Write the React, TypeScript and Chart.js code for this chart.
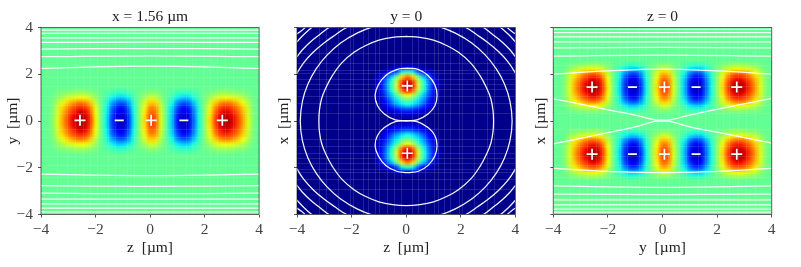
import React, { useEffect, useRef } from "react";
import { Chart, registerables } from "chart.js";

Chart.register(...registerables);

const FONT = "'Liberation Serif', serif";
const TICK_VALUES = [-4, -2, 0, 2, 4];
const TICK_LABELS = ["\u22124", "\u22122", "0", "2", "4"];

// Field values, as percent of the jet colour range.
const R0 = [47,47,50,62,74,84,92,97,96,86,66,49,36,18,7,5,16,36,52,68,84,82,62,46,32,14,5,7,22,38,52,68,84,94,97,93,85,75,62,50,47];
const R1 = [47,47,50,61,73,83,91,95,94,85,65,49,36,19,8,6,17,36,52,67,83,81,61,46,32,15,6,8,23,38,52,67,83,93,95,92,84,74,61,50,47];
const R2 = [47,47,50,60,71,80,87,92,91,82,64,49,37,21,11,9,19,37,51,66,80,78,60,46,33,17,9,11,24,39,51,66,80,89,92,88,81,72,60,50,47];
const R3 = [47,47,49,59,68,76,82,86,85,77,62,49,38,24,16,14,23,38,51,63,76,74,59,46,35,21,14,16,27,40,51,63,76,84,86,83,77,69,59,49,47];
const R4 = [47,47,49,56,63,69,74,77,76,70,58,48,40,30,23,22,28,40,50,60,69,68,56,46,38,27,22,23,32,42,50,60,69,75,77,75,70,64,56,49,47];
const R5 = [47,47,48,52,56,60,62,64,64,60,53,48,43,37,33,33,36,43,49,54,60,59,52,47,42,36,33,33,38,44,49,54,60,63,64,63,60,57,52,48,47];
const R6 = [47,47,47,49,51,52,53,54,54,52,50,47,45,43,41,41,43,45,48,50,52,52,49,47,45,42,41,41,43,46,48,50,52,54,54,53,52,51,49,47,47];
const R7 = [47,47,47,48,48,48,49,49,49,48,48,47,47,46,45,45,46,47,47,48,48,48,48,47,46,46,45,45,46,47,47,48,48,49,49,49,48,48,48,47,47];
const BAND = [R7, R6, R5, R4, R3, R2, R1, R0, R1, R2, R3, R4, R5, R6, R7];

const LOBE = [
  [2,2,1,1,1,1,1,1],
  [8,7,5,3,2,1,1,1],
  [42,36,20,11,6,3,1,1],
  [78,68,46,30,18,7,2,1],
  [94,84,58,38,23,9,3,1],
  [99,88,60,40,24,10,3,1],
  [90,80,56,37,22,9,3,1],
  [64,57,43,31,19,8,2,1],
  [48,43,35,26,15,6,2,1],
  [38,34,28,20,11,4,1,1],
  [20,18,15,10,6,2,1,1],
  [8,7,6,4,2,1,1,1],
  [3,3,2,1,1,1,1,1],
];

// White contour lines.
const P1_LINES: number[][][] = [
  [[-4,2.25],[-2,2.32],[0,2.35],[2,2.32],[4,2.25]],
  [[-4,2.75],[0,2.79],[4,2.75]],
  [[-4,3.08],[0,3.1],[4,3.08]],
  [[-4,3.36],[0,3.37],[4,3.36]],
  [[-4,3.56],[4,3.56]],
  [[-4,3.75],[4,3.75]],
  [[-4,3.89],[4,3.89]],
  [[-4,-2.27],[-2,-2.32],[0,-2.34],[2,-2.32],[4,-2.27]],
  [[-4,-2.77],[0,-2.8],[4,-2.77]],
  [[-4,-3.09],[0,-3.11],[4,-3.09]],
  [[-4,-3.34],[4,-3.34]],
  [[-4,-3.55],[4,-3.55]],
  [[-4,-3.73],[4,-3.73]],
  [[-4,-3.89],[4,-3.89]],
];

const RING_INNER = [[0,3.62],[0.5,3.58],[1,3.46],[1.5,3.22],[1.9,2.95],[2.35,2.5],[2.7,1.95],[2.95,1.4],[3.1,0.95],[3.18,0.45],[3.2,0],[3.18,-0.45],[3.1,-0.95],[2.95,-1.4],[2.7,-1.95],[2.35,-2.5],[1.9,-2.95],[1.5,-3.22],[1,-3.46],[0.5,-3.58],[0,-3.62],[-0.5,-3.58],[-1,-3.46],[-1.5,-3.22],[-1.9,-2.95],[-2.35,-2.5],[-2.7,-1.95],[-2.95,-1.4],[-3.1,-0.95],[-3.18,-0.45],[-3.2,0],[-3.18,0.45],[-3.1,0.95],[-2.95,1.4],[-2.7,1.95],[-2.35,2.5],[-1.9,2.95],[-1.5,3.22],[-1,3.46],[-0.5,3.58],[0,3.62]];
const RING_OUTER = [[0,4.25],[0.6,4.2],[1.2,4.04],[1.8,3.76],[2.4,3.34],[2.9,2.82],[3.3,2.23],[3.6,1.58],[3.8,0.85],[3.88,0],[3.8,-0.85],[3.6,-1.58],[3.3,-2.23],[2.9,-2.82],[2.4,-3.34],[1.8,-3.76],[1.2,-4.04],[0.6,-4.2],[0,-4.25],[-0.6,-4.2],[-1.2,-4.04],[-1.8,-3.76],[-2.4,-3.34],[-2.9,-2.82],[-3.3,-2.23],[-3.6,-1.58],[-3.8,-0.85],[-3.88,0],[-3.8,0.85],[-3.6,1.58],[-3.3,2.23],[-2.9,2.82],[-2.4,3.34],[-1.8,3.76],[-1.2,4.04],[-0.6,4.2],[0,4.25]];
const LOBE_UP = [[0.05,2.26],[0.45,2.2],[0.8,1.95],[1.05,1.55],[1.13,1.1],[1.05,0.65],[0.8,0.3],[0.4,0.05],[0,0.02],[-0.4,0.05],[-0.8,0.3],[-1.05,0.65],[-1.14,1.1],[-1.02,1.55],[-0.75,1.95],[-0.35,2.2],[0.05,2.26]];
const LOBE_DOWN = [[0.05,-2.21],[0.45,-2.15],[0.8,-1.9],[1.05,-1.5],[1.13,-1.05],[1.05,-0.62],[0.8,-0.28],[0.4,-0.03],[0,0],[-0.4,-0.03],[-0.8,-0.28],[-1.05,-0.62],[-1.14,-1.05],[-1.02,-1.5],[-0.75,-1.9],[-0.35,-2.15],[0.05,-2.21]];
const ARC_C = [[-1.7,4.17],[-2.18,4],[-2.6,3.68],[-3,3.35],[-3.4,2.95],[-3.75,2.5],[-4,2.05],[-4.2,1.6]];
const ARC_B = [[-2.5,4.18],[-2.83,4],[-3.2,3.67],[-3.5,3.39],[-3.8,3.05],[-4,2.75],[-4.2,2.45]];
const ARC_A = [[-3.3,4.12],[-3.46,4],[-3.75,3.7],[-4,3.39],[-4.15,3.2]];
const ARC_F = [[-3.6,4.1],[-3.85,3.85],[-4.1,3.65]];
const CORNERS = [[1,1],[-1,1],[1,-1],[-1,-1]];
const P2_LINES: number[][][] = [
  RING_INNER, RING_OUTER, LOBE_UP, LOBE_DOWN,
  ...[ARC_C, ARC_B, ARC_A, ARC_F].flatMap((arc) =>
    CORNERS.map(([sx, sy]) => arc.map(([x, y]) => [x * sx, y * sy]))),
];

const P3_LINES: number[][][] = [
  [[-4,2],[-2,2.14],[0,2.22],[2,2.14],[4,2]],
  [[-4,0.95],[-3,0.72],[-2,0.48],[-1,0.25],[-0.45,0.09],[-0.2,0.04],[0.2,0.04],[0.45,0.09],[1,0.25],[2,0.5],[3,0.73],[4,0.97]],
  [[-4,-0.98],[-3,-0.74],[-2,-0.5],[-1,-0.25],[-0.45,-0.07],[-0.2,-0.01],[0.2,-0.01],[0.45,-0.07],[1,-0.25],[2,-0.48],[3,-0.71],[4,-0.95]],
  [[-4,-2.03],[-2,-2.15],[0,-2.21],[2,-2.15],[4,-2.03]],
  [[-4,2.78],[0,2.82],[4,2.78]],
  [[-4,3.13],[0,3.15],[4,3.13]],
  [[-4,3.39],[4,3.39]],
  [[-4,3.6],[4,3.6]],
  [[-4,3.78],[4,3.78]],
  [[-4,3.92],[4,3.92]],
  [[-4,-2.78],[0,-2.84],[4,-2.78]],
  [[-4,-3.13],[0,-3.15],[4,-3.13]],
  [[-4,-3.37],[4,-3.37]],
  [[-4,-3.59],[4,-3.59]],
  [[-4,-3.77],[4,-3.77]],
  [[-4,-3.9],[4,-3.9]],
];

const P1_PLUS = [[-2.57,0.03],[0.04,0.03],[2.65,0.03]];
const P1_MINUS = [[-1.13,0.03],[1.24,0.03]];
const P2_PLUS = [[0.04,1.5],[0.04,-1.38]];
const P3_PLUS = [[-2.58,1.45],[0.07,1.45],[2.72,1.45],[-2.58,-1.42],[0.07,-1.42],[2.72,-1.42]];
const P3_MINUS = [[-1.1,1.45],[1.23,1.45],[-1.1,-1.42],[1.23,-1.42]];

// Faint seams of the original mesh.
const SEAMS_WIDE = [-3.4,-3.05,-2.75,-2.45,-2.2,-1.95,-1.55,-1.3,-0.85,-0.6,-0.2,0.2,0.6,0.85,1.3,1.55,1.95,2.2,2.45,2.75,3.05,3.4];
const SEAMS_TALL = [-3.7,-3.3,-2.4,-1.9,-1.5,-1.05,-0.7,-0.35,0.35,0.7,1.05,1.5,1.9,2.4,3.3,3.7];
const SEAMS_P2_Z = [-3.2,-2.95,-2.5,-2.05,-1.95,-1.6,-1.4,-1.15,-1,-0.7,-0.45,-0.2,0.2,0.45,0.7,1,1.15,1.4,1.6,1.95,2.05,2.5,2.95,3.2];
const SEAMS_P2_X = [-2.9,-2.5,-2.2,-2.05,-1.8,-1.6,-1.35,-1.05,-0.75,-0.35,0.35,0.75,1.05,1.35,1.6,1.8,2.05,2.2,2.5,2.9];

type Field = { rows: number[][]; x0: number; y0: number; dx: number; dy: number };

const mirrorRow = (r: number[]) => [...r.slice(1).reverse(), ...r];

const PANELS = [
  {
    title: "x = 1.56 \u00b5m", xLabel: "z  [\u00b5m]", yLabel: "y  [\u00b5m]", showY: true,
    left: 0, width: 268, axisWidth: 41, yTitlePad: 4, background: 47,
    fields: [{ rows: BAND, x0: -4, y0: 1.4, dx: 0.2, dy: -0.2 }] as Field[],
    lines: P1_LINES, plus: P1_PLUS, minus: P1_MINUS, seamsV: SEAMS_WIDE, seamsH: SEAMS_TALL, seamAlpha: 0.1,
  },
  {
    title: "y = 0", xLabel: "z  [\u00b5m]", yLabel: "x  [\u00b5m]", showY: false,
    left: 270, width: 256, axisWidth: 27, yTitlePad: 5, background: 1,
    fields: [
      { rows: LOBE.map(mirrorRow), x0: -1.35, y0: 2.5, dx: 0.2, dy: -0.2 },
      { rows: [...LOBE].reverse().map(mirrorRow), x0: -1.35, y0: 0.02, dx: 0.2, dy: -0.2 },
    ] as Field[],
    lines: P2_LINES, plus: P2_PLUS, minus: [] as number[][], seamsV: SEAMS_P2_Z, seamsH: SEAMS_P2_X, seamAlpha: 0.13,
  },
  {
    title: "z = 0", xLabel: "y  [\u00b5m]", yLabel: "x  [\u00b5m]", showY: false,
    left: 530, width: 271, axisWidth: 23.3, yTitlePad: 2, background: 47,
    fields: [
      { rows: BAND, x0: -4, y0: 2.56, dx: 0.2, dy: -0.16 },
      { rows: BAND, x0: -4, y0: -0.3, dx: 0.2, dy: -0.16 },
    ] as Field[],
    lines: P3_LINES, plus: P3_PLUS, minus: P3_MINUS, seamsV: SEAMS_WIDE, seamsH: SEAMS_TALL, seamAlpha: 0.1,
  },
];

const PLOT_WIDTH = 218.4;

function ramp(v: number, pts: number[][]) {
  if (v <= pts[0][0]) return pts[0][1];
  for (let i = 1; i < pts.length; i++) {
    if (v <= pts[i][0]) {
      const [a, va] = pts[i - 1];
      const [b, vb] = pts[i];
      return va + ((v - a) / (b - a)) * (vb - va);
    }
  }
  return pts[pts.length - 1][1];
}

function jet(pct: number): [number, number, number] {
  const v = pct / 100;
  const r = ramp(v, [[0.35, 0], [0.66, 1], [0.89, 1], [1, 0.5]]);
  const g = ramp(v, [[0.125, 0], [0.375, 1], [0.64, 1], [0.91, 0]]);
  const b = ramp(v, [[0, 0.5], [0.11, 1], [0.34, 1], [0.65, 0]]);
  return [Math.round(r * 255), Math.round(g * 255), Math.round(b * 255)];
}

const heatPlugin = {
  id: "heat",
  beforeDatasetsDraw(chart: any, _args: any, opts: any) {
    const { ctx, chartArea: a, scales } = chart;
    ctx.save();
    ctx.beginPath();
    ctx.rect(a.left, a.top, a.right - a.left, a.bottom - a.top);
    ctx.clip();
    const [r, g, b] = jet(opts.background);
    ctx.fillStyle = `rgb(${r},${g},${b})`;
    ctx.fillRect(a.left, a.top, a.right - a.left, a.bottom - a.top);
    ctx.imageSmoothingEnabled = true;
    ctx.imageSmoothingQuality = "high";
    for (const ds of chart.data.datasets) {
      if (!ds.heatCols) continue;
      const cols = ds.heatCols;
      const rows = ds.data.length / cols;
      const off = document.createElement("canvas");
      off.width = cols;
      off.height = rows;
      const octx = off.getContext("2d")!;
      const img = octx.createImageData(cols, rows);
      ds.data.forEach((p: any, i: number) => {
        const [cr, cg, cb] = jet(p.v);
        img.data[i * 4] = cr;
        img.data[i * 4 + 1] = cg;
        img.data[i * 4 + 2] = cb;
        img.data[i * 4 + 3] = 255;
      });
      octx.putImageData(img, 0, 0);
      const first = ds.data[0];
      const last = ds.data[ds.data.length - 1];
      const x1 = scales.x.getPixelForValue(first.x);
      const x2 = scales.x.getPixelForValue(last.x);
      const y1 = scales.y.getPixelForValue(first.y);
      const y2 = scales.y.getPixelForValue(last.y);
      ctx.drawImage(off, 0.5, 0.5, cols - 1, rows - 1, x1, y1, x2 - x1, y2 - y1);
    }
    ctx.strokeStyle = `rgba(255,255,255,${opts.seamAlpha})`;
    ctx.lineWidth = 1;
    for (const v of opts.seamsV) {
      const p = Math.round(scales.x.getPixelForValue(v)) + 0.5;
      ctx.beginPath();
      ctx.moveTo(p, a.top);
      ctx.lineTo(p, a.bottom);
      ctx.stroke();
    }
    for (const v of opts.seamsH) {
      const p = Math.round(scales.y.getPixelForValue(v)) + 0.5;
      ctx.beginPath();
      ctx.moveTo(a.left, p);
      ctx.lineTo(a.right, p);
      ctx.stroke();
    }
    ctx.restore();
  },
  afterDatasetsDraw(chart: any) {
    const { ctx, chartArea: a } = chart;
    ctx.save();
    ctx.strokeStyle = "rgba(0,0,0,0.6)";
    ctx.lineWidth = 1;
    ctx.strokeRect(a.left, a.top, a.right - a.left, a.bottom - a.top);
    ctx.restore();
  },
};

function axis(label: string, isX: boolean, showLabels: boolean, panel: any) {
  return {
    type: "linear",
    min: -4,
    max: 4,
    afterBuildTicks(scale: any) {
      scale.ticks = TICK_VALUES.map((value) => ({ value }));
    },
    afterFit(scale: any) {
      if (isX) scale.height = 52.5;
      else scale.width = panel.axisWidth;
    },
    border: { display: false },
    grid: { drawOnChartArea: false, drawTicks: true, tickLength: 3, color: "#555" },
    ticks: {
      display: showLabels,
      padding: 5,
      maxRotation: 0,
      autoSkip: false,
      color: "#444",
      font: { family: FONT, size: 15.5, lineHeight: 1 },
      callback: (v: number) => TICK_LABELS[TICK_VALUES.indexOf(v)] ?? "",
    },
    title: {
      display: true,
      text: label,
      color: "#222",
      font: { family: FONT, size: 15.5, lineHeight: 1.2 },
      padding: isX ? { top: 0, bottom: 10 } : { top: panel.yTitlePad, bottom: 0 },
    },
  };
}

function buildDatasets(panel: any) {
  const sets: any[] = [];
  const toPts = (arr: number[][]) => arr.map(([x, y]) => ({ x, y }));
  sets.push({
    label: "plus", data: toPts(panel.plus), pointStyle: "cross", pointRadius: 5.5,
    pointBorderColor: "#fff", pointBorderWidth: 1.7, showLine: false, clip: 0,
  });
  if (panel.minus.length) {
    sets.push({
      label: "minus", data: toPts(panel.minus), pointStyle: "line", pointRadius: 4.5,
      pointBorderColor: "#fff", pointBorderWidth: 1.7, showLine: false, clip: 0,
    });
  }
  panel.lines.forEach((line: number[][], i: number) => {
    sets.push({
      label: `contour ${i}`, data: toPts(line), showLine: true, pointRadius: 0,
      borderColor: "rgba(255,255,255,0.95)", borderWidth: 1.25, tension: 0.4, capBezierPoints: false, fill: false, clip: 0,
    });
  });
  panel.fields.forEach((f: Field, i: number) => {
    const data: any[] = [];
    f.rows.forEach((row, ri) =>
      row.forEach((v, ci) => data.push({ x: f.x0 + ci * f.dx, y: f.y0 + ri * f.dy, v })),
    );
    sets.push({ label: `field ${i}`, data, heatCols: f.rows[0].length, pointRadius: 0, showLine: false });
  });
  return sets;
}

function Panel({ panel }: { panel: any }) {
  const ref = useRef<HTMLCanvasElement>(null);
  useEffect(() => {
    const chart = new Chart(ref.current!, {
      type: "scatter",
      data: { datasets: buildDatasets(panel) },
      plugins: [heatPlugin],
      options: {
        responsive: false,
        animation: false,
        events: [],
        layout: {
          padding: {
            left: 0, top: 0, bottom: 0,
            right: panel.width - panel.axisWidth - PLOT_WIDTH,
          },
        },
        scales: {
          x: axis(panel.xLabel, true, true, panel),
          y: axis(panel.yLabel, false, panel.showY, panel),
        },
        plugins: {
          legend: { display: false },
          tooltip: { enabled: false },
          title: {
            display: true,
            fullSize: false,
            text: panel.title,
            color: "#222",
            font: { family: FONT, size: 15.5, weight: "normal", lineHeight: 1 },
            padding: { top: 9, bottom: 3 },
          },
          heat: {
            background: panel.background,
            seamsV: panel.seamsV,
            seamsH: panel.seamsH,
            seamAlpha: panel.seamAlpha,
          },
        },
      } as any,
    } as any);
    return () => chart.destroy();
  }, [panel]);
  return (
    <canvas
      ref={ref}
      width={panel.width}
      height={267}
      style={{ position: "absolute", left: panel.left, top: 0, width: panel.width, height: 267 }}
    />
  );
}

export default function App() {
  return (
    <div style={{ position: "fixed", left: 0, top: 0, width: 801, height: 267, background: "#fff", overflow: "hidden" }}>
      {PANELS.map((p) => (
        <Panel key={p.title} panel={p} />
      ))}
    </div>
  );
}
